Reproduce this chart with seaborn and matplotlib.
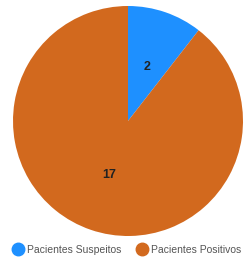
import matplotlib
matplotlib.use("Agg")
import matplotlib.pyplot as plt
import seaborn as sns
from matplotlib.lines import Line2D

categories = ["Pacientes Suspeitos", "Pacientes Positivos"]
values = [2, 17]
colors = ["#1e90ff", "#d2691e"]

sns.set_style("white")
plt.rcParams["font.family"] = ["Liberation Sans", "DejaVu Sans"]

fig = plt.figure(figsize=(2.53, 2.59), dpi=100)
ax = fig.add_axes([13/253, 23/259, 230/253, 230/259])
total = sum(values)
wedges, texts, autotexts = ax.pie(
    values, colors=colors, startangle=90, counterclock=False,
    autopct=lambda p: f"{round(p*total/100):d}", pctdistance=0.5,
    wedgeprops=dict(linewidth=0),
    textprops=dict(fontsize=9, fontweight="bold", color="#222222"))
ax.set_xlim(-1, 1)
ax.set_ylim(-1, 1)
ax.set_aspect("equal")
ax.axis("off")

handles = [Line2D([0], [0], marker="o", linestyle="", markersize=9,
                  markerfacecolor=c, markeredgecolor=c) for c in colors]
fig.legend(handles, categories, loc="center", bbox_to_anchor=(0.5, 9/259),
           ncol=2, frameon=False, fontsize=7.5, labelcolor="#555555",
           handletextpad=0.3, columnspacing=1.4, handlelength=1.2)
fig.savefig("out.png", dpi=100)
